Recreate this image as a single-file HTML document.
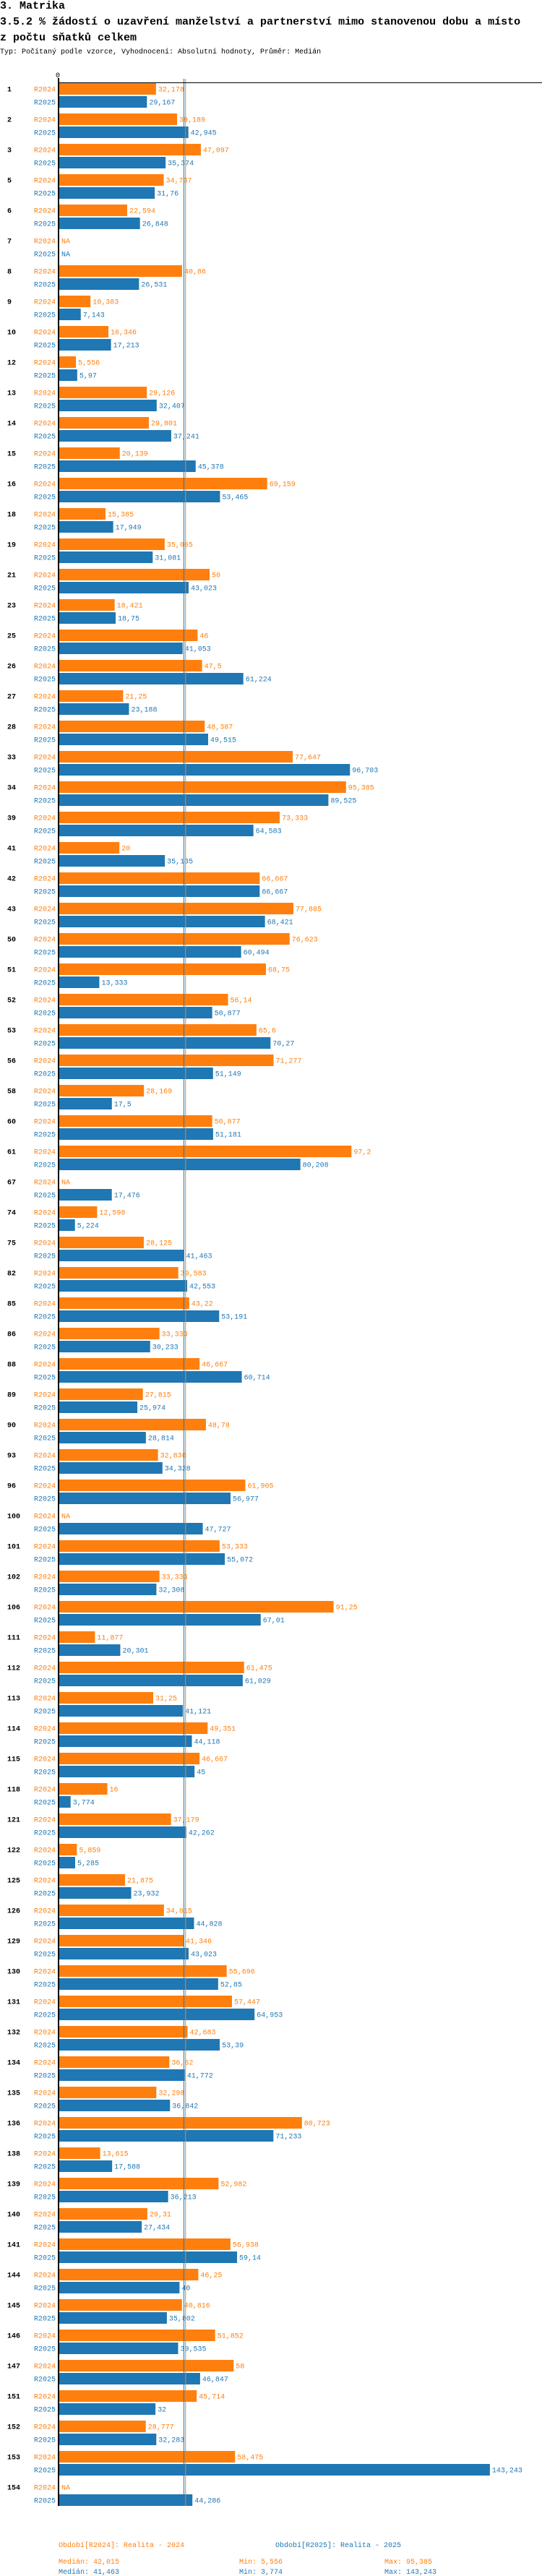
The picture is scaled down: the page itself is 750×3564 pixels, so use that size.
<!DOCTYPE html>
<html><head><meta charset="utf-8">
<style>
html,body{margin:0;padding:0;background:#fff;}
body{width:750px;height:3564px;overflow:hidden;position:relative;font-family:"Liberation Mono",monospace;}
.t{position:absolute;left:0;white-space:nowrap;font-weight:bold;font-size:15px;color:#000;}
.s{position:absolute;left:0;white-space:nowrap;font-size:10px;color:#000;}
svg{position:absolute;left:0;top:0;}
</style></head><body>
<div class="t" style="top:0px">3. Matrika</div>
<div class="t" style="top:22px">3.5.2 % žádostí o uzavření manželství a partnerství mimo stanovenou dobu a místo</div>
<div class="t" style="top:44px">z počtu sňatků celkem</div>
<div class="s" style="top:67px">Typ: Počítaný podle vzorce, Vyhodnocení: Absolutní hodnoty, Průměr: Medián</div>
<svg id="chart" width="750" height="3564"></svg>
<script>
const categories=["1","2","3","5","6","7","8","9","10","12","13","14","15","16","18","19","21","23","25","26","27","28","33","34","39","41","42","43","50","51","52","53","56","58","60","61","67","74","75","82","85","86","88","89","90","93","96","100","101","102","106","111","112","113","114","115","118","121","122","125","126","129","130","131","132","134","135","136","138","139","140","141","144","145","146","147","151","152","153","154"];
const values2024=[32.178,39.189,47.097,34.737,22.594,null,40.86,10.383,16.346,5.556,29.126,29.801,20.139,69.159,15.385,35.065,50,18.421,46,47.5,21.25,48.387,77.647,95.385,73.333,20,66.667,77.885,76.623,68.75,56.14,65.6,71.277,28.169,50.877,97.2,null,12.598,28.125,39.583,43.22,33.333,46.667,27.815,48.78,32.836,61.905,null,53.333,33.333,91.25,11.877,61.475,31.25,49.351,46.667,16,37.179,5.859,21.875,34.815,41.346,55.696,57.447,42.683,36.62,32.298,80.723,13.615,52.982,29.31,56.938,46.25,40.816,51.852,58,45.714,28.777,58.475,null];
const values2025=[29.167,42.945,35.374,31.76,26.848,null,26.531,7.143,17.213,5.97,32.407,37.241,45.378,53.465,17.949,31.081,43.023,18.75,41.053,61.224,23.188,49.515,96.703,89.525,64.583,35.135,66.667,68.421,60.494,13.333,50.877,70.27,51.149,17.5,51.181,80.208,17.476,5.224,41.463,42.553,53.191,30.233,60.714,25.974,28.814,34.328,56.977,47.727,55.072,32.308,67.01,20.301,61.029,41.121,44.118,45,3.774,42.262,5.285,23.932,44.828,43.023,52.85,64.953,53.39,41.772,36.842,71.233,17.588,36.213,27.434,59.14,40,35.802,39.535,46.847,32,32.283,143.243,44.286];
const seriesNames=["R2024","R2025"];
const medians=[42.015,41.463];
const mins=["5,556","3,774"];
const maxs=["95,385","143,243"];
const legendTexts=["Období[R2024]: Realita - 2024","Období[R2025]: Realita - 2025"];

const NS="http://www.w3.org/2000/svg";
const svg=document.getElementById('chart');
const X0=82, K=4.16, TOP=115, PITCH=42;
const colors=["#ff7f0e","#1f77b4"];
const x=v=>X0+v*K;
const fmt=v=>String(v).replace('.',',');
function mk(tag,attrs,txt){const e=document.createElementNS(NS,tag);for(const k in attrs)e.setAttribute(k,attrs[k]);if(txt!==undefined)e.textContent=txt;svg.appendChild(e);return e;}
const endY=TOP+PITCH*categories.length-8;
categories.forEach((c,i)=>{
  const top=TOP+PITCH*i;
  const cl=mk('text',{x:10,y:top+11.5,'font-size':10,'font-weight':'bold',fill:'#000','font-family':'Liberation Mono, monospace'},c);
  
  
  [values2024[i],values2025[i]].forEach((v,s)=>{
    const y=top+s*18;
    const lb=mk('text',{x:77,y:y+11.5,'font-size':10,fill:colors[s],'text-anchor':'end','font-family':'Liberation Mono, monospace'},seriesNames[s]);
    
    
    let tx=X0+3;
    if(v!==null){
      const r=mk('rect',{x:X0,y:y,width:v*K,height:16,fill:colors[s]});
      
      
      tx=x(v)+3;
    }
    const vt=mk('text',{x:tx,y:y+11.5,'font-size':10,fill:colors[s],'font-family':'Liberation Mono, monospace'},v===null?'NA':fmt(v));
    
    
  });
});
// median lines
[1,0].forEach(s=>{
  const l=mk('line',{x1:x(medians[s]),x2:x(medians[s]),y1:109,y2:endY,stroke:colors[s],'stroke-width':1});
  
  
});
const ax=mk('line',{x1:81,x2:81,y1:108,y2:endY,stroke:'#000','stroke-width':2});


const hx=mk('line',{x1:81,x2:750,y1:114.5,y2:114.5,stroke:'#000','stroke-width':1});


const z=mk('text',{x:80,y:107,'font-size':10,'text-anchor':'middle',fill:'#000','font-family':'Liberation Mono, monospace'},'0');


// legend
[0,1].forEach(s=>{
  const lg=mk('text',{x:s?381:81,y:3524,'font-size':10,fill:colors[s],'font-family':'Liberation Mono, monospace'},legendTexts[s]);
  
  
  const yy=3547+s*14;
  const m=mk('text',{x:81,y:yy,'font-size':10,fill:colors[s],'font-family':'Liberation Mono, monospace'},'Medián: '+fmt(medians[s]));
  
  
  const mn=mk('text',{x:331,y:yy,'font-size':10,fill:colors[s],'font-family':'Liberation Mono, monospace'},'Min: '+mins[s]);
  
  
  const mx=mk('text',{x:532,y:yy,'font-size':10,fill:colors[s],'font-family':'Liberation Mono, monospace'},'Max: '+maxs[s]);
  
  
});
</script>
</body></html>
